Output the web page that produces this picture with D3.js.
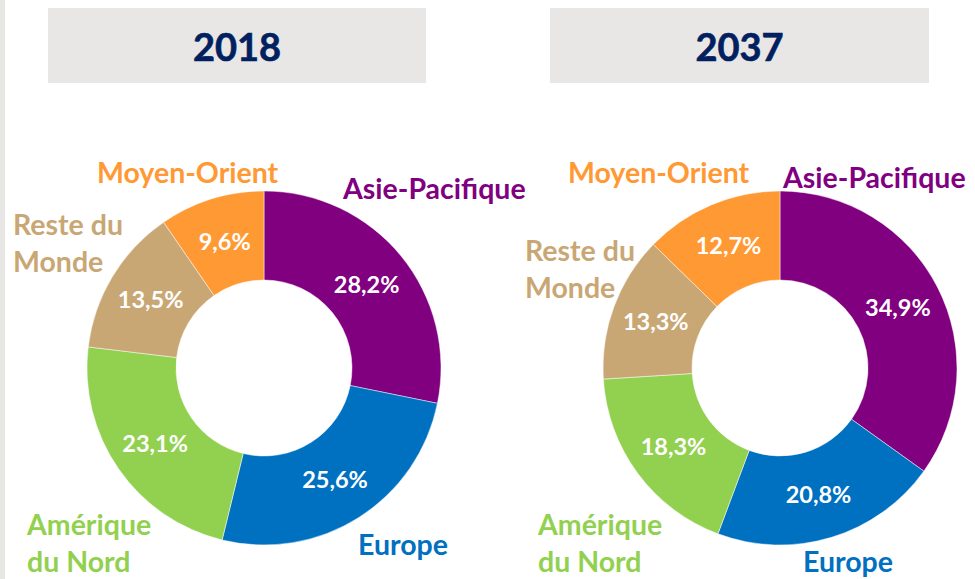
<!DOCTYPE html>
<html>
<head>
<meta charset="utf-8">
<script src="https://cdn.jsdelivr.net/npm/d3@7"></script>
<style>
  html, body { margin: 0; padding: 0; background: #fff; }
  svg { display: block; }
  text { font-family: Lato, "Open Sans", sans-serif; font-weight: 700; }
</style>
</head>
<body>
<svg id="chart" width="975" height="579"></svg>
<script>
// Market share by region, clockwise from 12 o'clock
const regions = ["Asie-Pacifique", "Europe", "Amérique du Nord", "Reste du Monde", "Moyen-Orient"];
const years = ["2018", "2037"];
const share2018 = [28.2, 25.6, 23.1, 13.5, 9.6];
const share2037 = [34.9, 20.8, 18.3, 13.3, 12.7];
const regionColors = ["#800080", "#0070c0", "#92d050", "#c9a774", "#ff9933"];

// Region label lines and placement for each donut
const labelLines = [["Asie-Pacifique"], ["Europe"], ["Amérique", "du Nord"], ["Reste du", "Monde"], ["Moyen-Orient"]];
const labelPos2018 = [[343, 199], [358, 555], [27, 535], [13, 235], [97, 183]];
const labelPos2037 = [[783, 188], [803, 572], [538, 535], [525, 261], [568, 183]];

const svg = d3.select("#chart");
const W = 975, H = 579;

// thin grey strip on the left edge
svg.append("rect").attr("x", 0).attr("y", 0).attr("width", 5).attr("height", H).attr("fill", "#e8e6e4");

const color = d3.scaleOrdinal().domain(regions).range(regionColors);
const pie = d3.pie().sort(null).value(d => d.value);
const outerR = 177, innerR = 88;
const arc = d3.arc().innerRadius(innerR).outerRadius(outerR);

const panels = [
  { year: years[0], values: share2018, cx: 264, box: [48, 426], labels: labelPos2018 },
  { year: years[1], values: share2037, cx: 780, box: [550, 929], labels: labelPos2037 }
];
const cy = 368;
const fmt = v => d3.format(".1f")(v).replace(".", ",") + "%";

panels.forEach(p => {
  const g = svg.append("g");

  // title banner
  g.append("rect")
    .attr("x", p.box[0]).attr("y", 8)
    .attr("width", p.box[1] - p.box[0]).attr("height", 75)
    .attr("fill", "#e9e7e5");
  g.append("text")
    .attr("x", (p.box[0] + p.box[1]) / 2).attr("y", 61)
    .attr("text-anchor", "middle")
    .attr("font-size", 38)
    .attr("fill", "#002060")
    .attr("stroke", "#002060")
    .attr("stroke-width", 0.6)
    .text(p.year);

  const data = regions.map((r, i) => ({ region: r, value: p.values[i], idx: i }));
  const arcs = pie(data);

  const donut = g.append("g").attr("transform", `translate(${p.cx},${cy})`);
  donut.selectAll("path")
    .data(arcs)
    .join("path")
    .attr("d", arc)
    .attr("fill", d => color(d.data.region))
    .attr("stroke", "#ffffff")
    .attr("stroke-opacity", 0.6)
    .attr("stroke-width", 0.8);

  donut.selectAll("text.val")
    .data(arcs)
    .join("text")
    .attr("class", "val")
    .attr("transform", d => `translate(${arc.centroid(d)})`)
    .attr("text-anchor", "middle")
    .attr("dy", "0.36em")
    .attr("font-size", 23.5)
    .attr("fill", "#ffffff")
    .text(d => fmt(d.data.value));

  // region names
  data.forEach((d, i) => {
    const [lx, ly] = p.labels[i];
    const t = g.append("text")
      .attr("x", lx).attr("y", ly)
      .attr("font-size", 28.5)
      .attr("fill", color(d.region));
    labelLines[i].forEach((line, k) => {
      t.append("tspan").attr("x", lx).attr("y", ly + k * 37).text(line);
    });
  });
});
</script>
</body>
</html>
